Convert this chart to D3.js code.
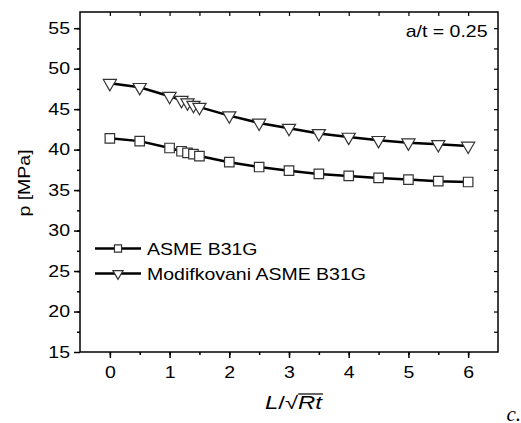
<!DOCTYPE html>
<html>
<head>
<meta charset="utf-8">
<script src="https://cdn.jsdelivr.net/npm/d3@7"></script>
<style>
  body { margin: 0; background: #fff; }
  svg text { font-family: "Liberation Sans", Arial, sans-serif; }
</style>
</head>
<body>
<svg id="chart" width="521" height="423"></svg>
<script>
// data
const ratio = [0, 0.5, 1, 1.2, 1.3, 1.4, 1.5, 2, 2.5, 3, 3.5, 4, 4.5, 5, 5.5, 6];
const asme = [41.4, 41.05, 40.2, 39.8, 39.6, 39.45, 39.2, 38.45, 37.85, 37.4, 37.0, 36.75, 36.5, 36.3, 36.1, 36.0];
const modified = [48.2, 47.7, 46.6, 46.1, 45.8, 45.5, 45.25, 44.2, 43.3, 42.65, 42.0, 41.55, 41.15, 40.85, 40.65, 40.45];
const seriesNames = ["ASME B31G", "Modifkovani ASME B31G"];
const xTicks = [0, 1, 2, 3, 4, 5, 6];
const yTicks = [15, 20, 25, 30, 35, 40, 45, 50, 55];

const margin = {top: 12, right: 23, bottom: 71, left: 80},
  width = 521 - margin.left - margin.right,
  height = 423 - margin.top - margin.bottom;

const fs = 16;        // font size
const sx = 1.22;      // glyphs in the original are wide

const svg = d3.select("#chart");
const g = svg.append("g")
  .attr("transform", "translate(" + margin.left + "," + margin.top + ")");

const x = d3.scaleLinear().domain([-0.5, 6.5]).range([0, width]);
const y = d3.scaleLinear().domain([15, 57]).range([height, 0]);

const xMinor = d3.range(-0.5, 6.51, 0.5).filter(v => v > -0.5 && v < 6.5);
const yMinor = d3.range(15, 57.01, 2.5).filter(v => v > 15 && v < 57);

// frame
g.append("rect")
  .attr("width", width).attr("height", height)
  .attr("fill", "none").attr("stroke", "#000").attr("stroke-width", 1.5);

// bottom axis
const xAxis = g.append("g").attr("transform", "translate(0," + height + ")");
xAxis.call(d3.axisBottom(x).tickValues(xMinor).tickSize(3).tickFormat(""));
xAxis.append("g").call(d3.axisBottom(x).tickValues(xTicks).tickSize(6).tickPadding(9).tickFormat(d3.format("d")));
xAxis.selectAll(".domain").remove();
xAxis.selectAll("line").attr("stroke-width", 1.5);
xAxis.selectAll("text").attr("font-size", fs).attr("fill", "#000")
  .attr("transform", "scale(" + sx + ",1)");

// left axis
const yAxis = g.append("g");
yAxis.call(d3.axisLeft(y).tickValues(yMinor).tickSize(3).tickFormat(""));
yAxis.append("g").call(d3.axisLeft(y).tickValues(yTicks).tickSize(6).tickPadding(2.2).tickFormat(d3.format("d")));
yAxis.selectAll(".domain").remove();
yAxis.selectAll("line").attr("stroke-width", 1.5);
yAxis.selectAll("text").attr("font-size", fs).attr("fill", "#000")
  .attr("transform", "scale(" + sx + ",1)");

// top and right inner ticks
const topAxis = g.append("g");
topAxis.call(d3.axisBottom(x).tickValues(xMinor).tickSize(4).tickFormat(""));
const rightAxis = g.append("g").attr("transform", "translate(" + width + ",0)");
rightAxis.call(d3.axisLeft(y).tickValues(yMinor).tickSize(4).tickFormat(""));
topAxis.selectAll(".domain").remove();
rightAxis.selectAll(".domain").remove();
topAxis.selectAll("line").attr("stroke-width", 1.2);
rightAxis.selectAll("line").attr("stroke-width", 1.2);

// lines
const line = d3.line()
  .x(d => x(d.x))
  .y(d => y(d.y));

const series = [asme, modified].map(vals => ratio.map((r, i) => ({x: r, y: vals[i]})));
const symbols = [d3.symbolSquare, d3.symbolTriangle];

series.forEach((data, si) => {
  g.append("path")
    .attr("d", line(data))
    .attr("fill", "none")
    .attr("stroke", "#000")
    .attr("stroke-width", 2.5);
  g.selectAll(".pt" + si)
    .data(data)
    .enter().append("path")
    .attr("class", "pt" + si)
    .attr("d", d3.symbol().type(symbols[si]).size(si === 0 ? 90 : 75))
    .attr("transform", d => "translate(" + x(d.x) + "," + y(d.y) + ")" + (si === 1 ? " rotate(180)" : ""))
    .attr("fill", "#fff")
    .attr("stroke", "#333")
    .attr("stroke-width", 1.2);
});

// legend
const legend = g.append("g");
seriesNames.forEach((name, i) => {
  const ly = 236.5 + i * 25;
  legend.append("line")
    .attr("x1", 15).attr("x2", 61).attr("y1", ly).attr("y2", ly)
    .attr("stroke", "#000").attr("stroke-width", 2.5);
  legend.append("path")
    .attr("d", d3.symbol().type(symbols[i]).size(i === 0 ? 50 : 45))
    .attr("transform", "translate(38," + ly + ")" + (i === 1 ? " rotate(180)" : ""))
    .attr("fill", "#fff").attr("stroke", "#333").attr("stroke-width", 1.2);
  legend.append("text")
    .attr("transform", "translate(67," + (ly + 6) + ") scale(" + sx + ",1)")
    .attr("font-size", fs)
    .text(name);
});

// annotation
g.append("text")
  .attr("transform", "translate(" + (width - 10.5) + ",24.5) scale(" + sx + ",1)")
  .attr("text-anchor", "end")
  .attr("font-size", fs)
  .text("a/t = 0.25");

// y label
svg.append("text")
  .attr("transform", "translate(30,183) rotate(-90) scale(" + sx + ",1)")
  .attr("text-anchor", "middle")
  .attr("font-size", fs)
  .text("p [MPa]");

// x label L/sqrt(Rt)
const xl = svg.append("text")
  .attr("x", 265).attr("y", 409)
  .attr("font-size", 18)
  .attr("textLength", 57)
  .attr("lengthAdjust", "spacingAndGlyphs");
xl.append("tspan").attr("font-style", "italic").text("L");
xl.append("tspan").text("/");
xl.append("tspan").text("\u221A");
xl.append("tspan").attr("font-style", "italic").text("Rt");
const t = xl.node();
const n = t.getNumberOfChars();
const start = t.getStartPositionOfChar(n - 2);
const end = t.getEndPositionOfChar(n - 1);
svg.append("line")
  .attr("x1", start.x).attr("x2", end.x + 1)
  .attr("y1", 394).attr("y2", 394)
  .attr("stroke", "#000").attr("stroke-width", 1.2);

// panel letter
svg.append("text")
  .attr("x", 506.5).attr("y", 421)
  .attr("font-style", "italic")
  .attr("font-size", 21)
  .style("font-family", "'Liberation Serif', serif")
  .text("c.");
</script>
</body>
</html>
